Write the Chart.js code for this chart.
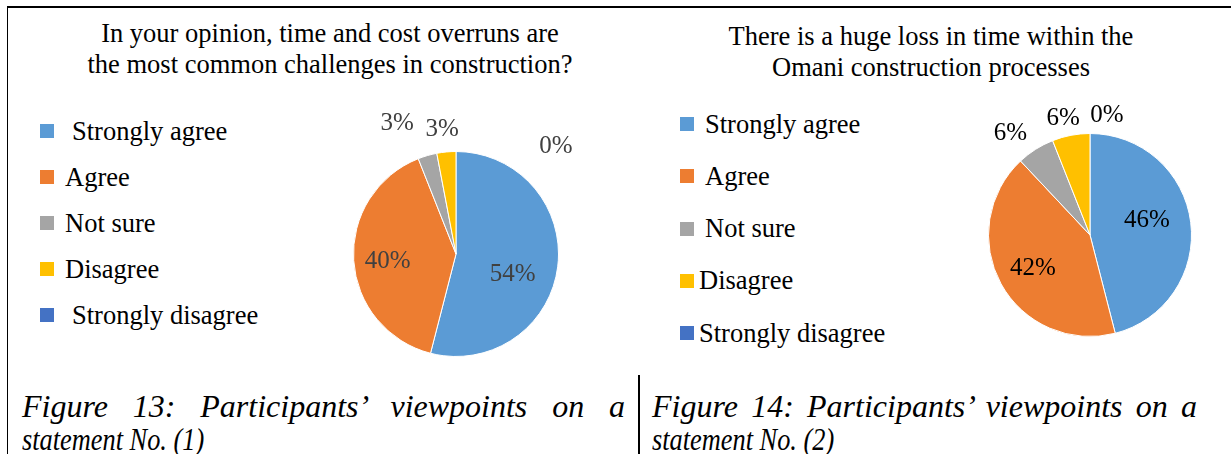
<!DOCTYPE html>
<html>
<head>
<meta charset="utf-8">
<title>Participants' viewpoints</title>
<script src="https://cdn.jsdelivr.net/npm/chart.js"></script>
<style>
  body { margin: 0; background: #fff; }
  #page { position: relative; width: 1231px; height: 454px; overflow: hidden; font-family: "Liberation Serif", "Times New Roman", serif; color: #000; }
  .rule { position: absolute; background: #000; }
  canvas { position: absolute; }
  .chart-title { position: absolute; width: 600px; text-align: center; font-size: 26.5px; line-height: 31px; }
  .legend-item { position: absolute; height: 30px; display: flex; align-items: center; font-size: 26.5px; white-space: pre; }
  .legend-box { width: 14px; height: 14px; flex: none; }
  .caption { position: absolute; font-style: italic; font-size: 32px; line-height: 33px; white-space: nowrap; }
  .caption.first { text-align: justify; text-align-last: justify; }
  .caption.second { font-size: 31px; transform: scaleX(0.85); transform-origin: 0 0; }
</style>
</head>
<body>
<div id="page">
  <div class="rule" style="left:7px;top:6px;width:1224px;height:2px"></div>
  <div class="rule" style="left:7px;top:6px;width:1px;height:448px"></div>
  <div class="rule" style="left:638px;top:375px;width:2px;height:79px"></div>
  <div class="chart-title" id="title1" style="left:30px;top:18px"></div>
  <div class="chart-title" id="title2" style="left:631px;top:21px"></div>
  <canvas id="chart1" width="330" height="280" style="left:300px;top:90px"></canvas>
  <canvas id="chart2" width="290" height="290" style="left:940px;top:80px"></canvas>
  <div id="legend1"></div>
  <div id="legend2"></div>
  <div class="caption first" style="left:22px;top:390px;width:603px">Figure 13: Participants’ viewpoints on a</div>
  <div class="caption second" style="left:22px;top:423px">statement No. (1)</div>
  <div class="caption first" style="left:652px;top:390px;width:545px">Figure 14: Participants’ viewpoints on a</div>
  <div class="caption second" style="left:652px;top:423px">statement No. (2)</div>
</div>

<script>
// Answer categories shared by both questions
const categories = ["Strongly agree", "Agree", "Not sure", "Disagree", "Strongly disagree"];
const sliceColors = ["#5B9BD5", "#ED7D31", "#A5A5A5", "#FFC000", "#4472C4"];

// Statement 1 (percent of answers)
const statement1Title = ["In your opinion, time and cost overruns are", "the most common challenges in construction?"];
const statement1Values = [54, 40, 3, 3, 0];

// Statement 2 (percent of answers)
const statement2Title = ["There is a huge loss in time within the", "Omani construction processes"];
const statement2Values = [46, 42, 6, 6, 0];

// Draws the "xx%" labels around / inside each slice
const pieLabelPlugin = {
    id: "pieLabels",
    afterDatasetsDraw(chart, args, opts) {
        const ctx = chart.ctx;
        const meta = chart.getDatasetMeta(0);
        const values = chart.data.datasets[0].data;
        ctx.save();
        ctx.font = '25px "Liberation Serif"';
        ctx.fillStyle = opts.color;
        ctx.textAlign = "center";
        ctx.textBaseline = "middle";
        meta.data.forEach((arc, i) => {
            const p = arc.getProps(["x", "y", "startAngle", "endAngle", "outerRadius"], true);
            const [factor, shift] = opts.placement[i];
            const angle = (p.startAngle + p.endAngle) / 2 + shift * Math.PI / 180;
            const r = p.outerRadius * factor;
            ctx.fillText(values[i] + "%", p.x + Math.cos(angle) * r, p.y + Math.sin(angle) * r);
        });
        ctx.restore();
    }
};

function buildPie(canvasId, values, lay) {
    return new Chart(document.getElementById(canvasId), {
        type: "pie",
        data: {
            labels: categories,
            datasets: [{
                data: values,
                backgroundColor: sliceColors,
                borderColor: "#ffffff",
                borderWidth: 1
            }]
        },
        options: {
            responsive: false,
            animation: false,
            devicePixelRatio: 1,
            layout: { padding: lay.padding },
            plugins: {
                legend: { display: false },
                tooltip: { enabled: false },
                title: { display: false },
                pieLabels: { color: lay.labelColor, placement: lay.labelPlacement }
            }
        },
        plugins: [pieLabelPlugin]
    });
}

// HTML legend next to each pie
function buildLegend(containerId, lay) {
    const holder = document.getElementById(containerId);
    categories.forEach((name, i) => {
        const item = document.createElement("div");
        item.className = "legend-item";
        item.style.left = lay.x + "px";
        item.style.top = (lay.firstY + i * lay.step - 15) + "px";
        const box = document.createElement("span");
        box.className = "legend-box";
        box.style.background = sliceColors[i];
        box.style.marginRight = (5 + lay.indent[i]) + "px";
        const text = document.createElement("span");
        text.textContent = name;
        item.appendChild(box);
        item.appendChild(text);
        holder.appendChild(item);
    });
}

function setTitle(id, lines) {
    const el = document.getElementById(id);
    lines.forEach((line) => {
        const row = document.createElement("div");
        row.textContent = line;
        el.appendChild(row);
    });
}

document.addEventListener("DOMContentLoaded", function () {
    setTitle("title1", statement1Title);
    setTitle("title2", statement2Title);

    buildPie("chart1", statement1Values, {
        padding: { left: 53, right: 71, top: 61, bottom: 13 },
        labelColor: "#404040",
        labelPlacement: [[0.59, 13], [0.67, -3], [1.4, -8], [1.22, -1], [1.43, 43]]
    });
    buildPie("chart2", statement2Values, {
        padding: { left: 48, right: 38, top: 53, bottom: 33 },
        labelColor: "#000",
        labelPlacement: [[0.58, -7.5], [0.65, -1.3], [1.27, -5.7], [1.18, -2.2], [1.19, 8]]
    });

    buildLegend("legend1", { x: 40, firstY: 131, step: 46, indent: [13, 6, 6, 6, 13] });
    buildLegend("legend2", { x: 680, firstY: 124, step: 52.25, indent: [6, 6, 6, 0, 0] });
});
</script>
</body>
</html>
